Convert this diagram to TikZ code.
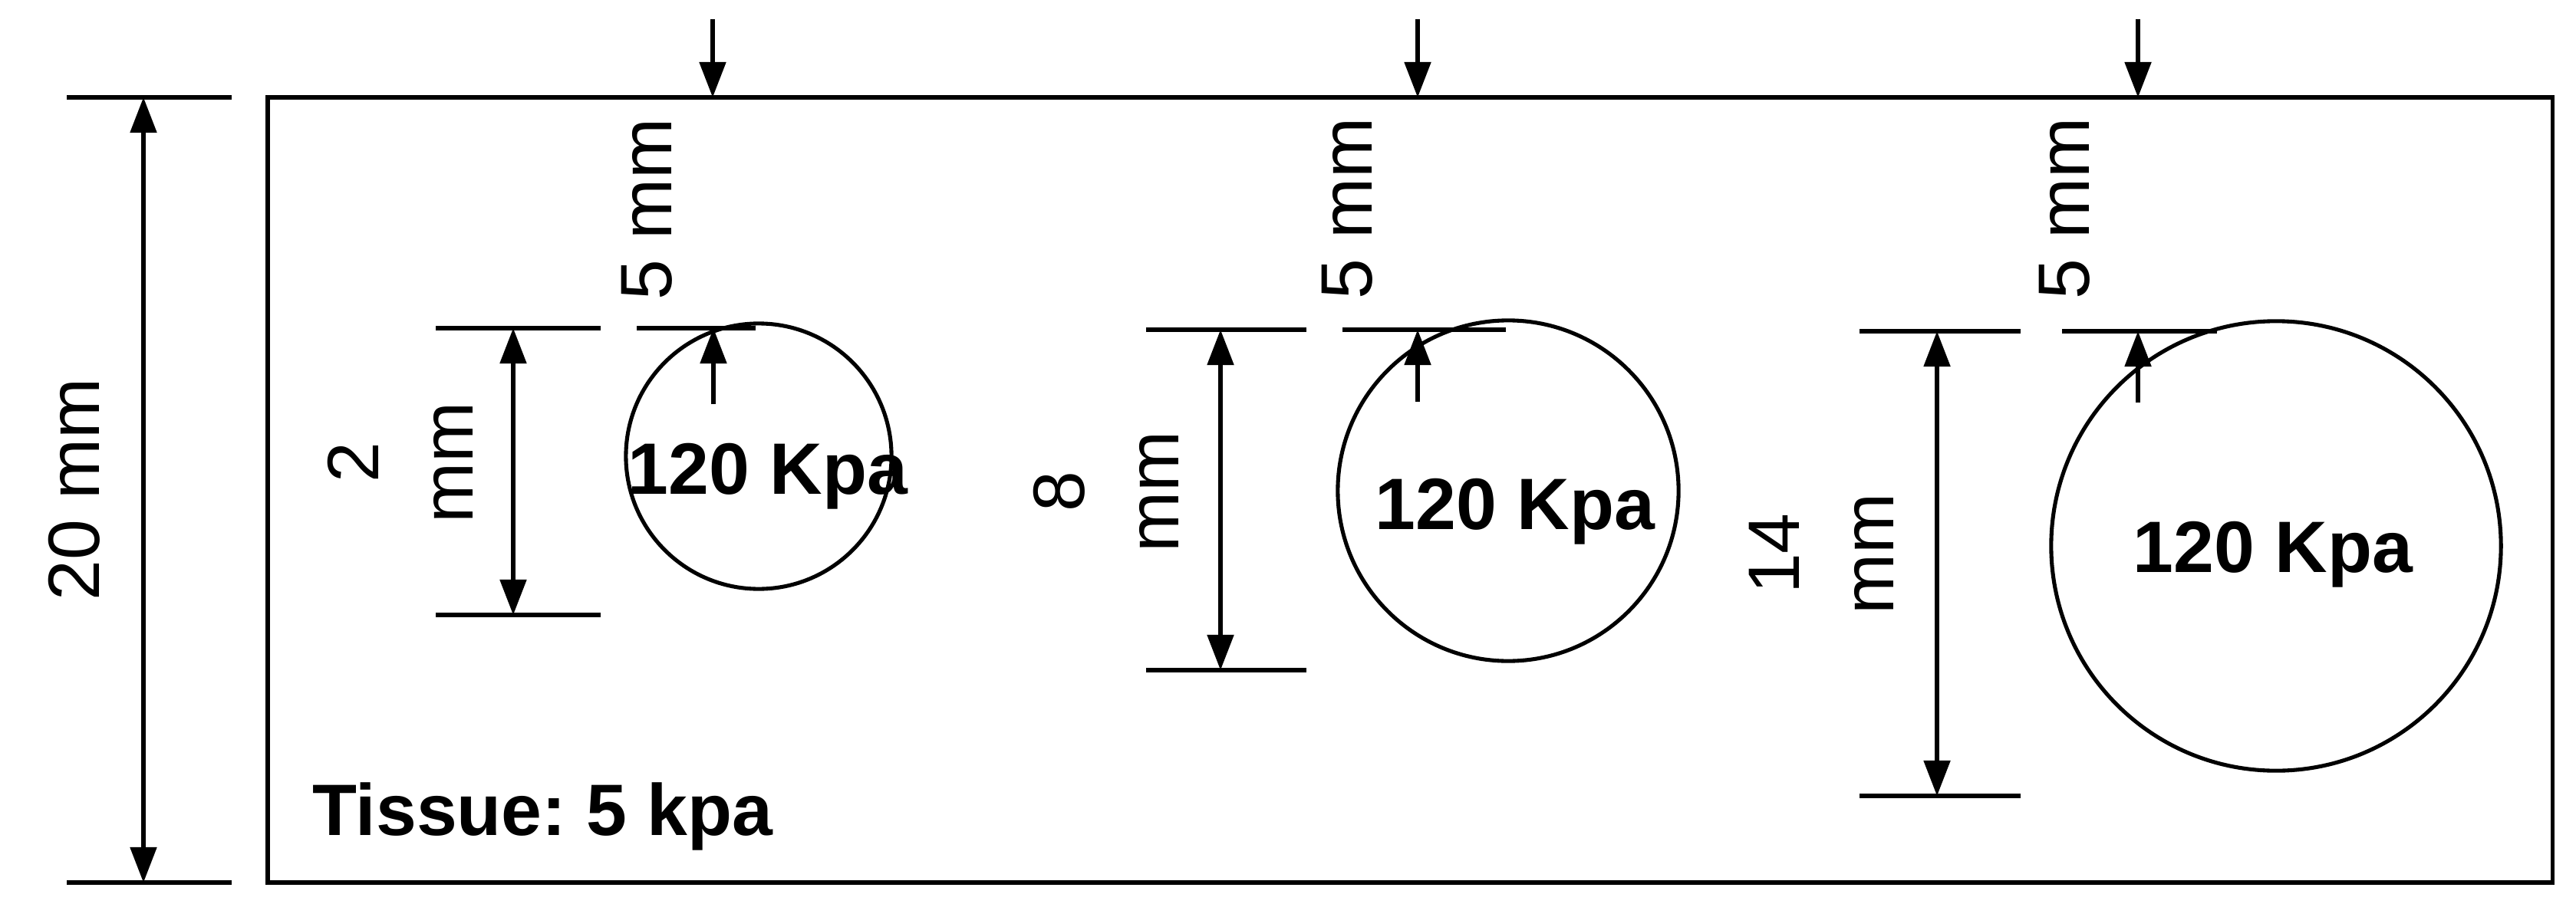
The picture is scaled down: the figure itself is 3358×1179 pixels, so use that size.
\documentclass[tikz,border=0pt]{standalone}
\usepackage{fontspec}
\setmainfont{Liberation Sans}
\usetikzlibrary{arrows.meta}
\frenchspacing

\begin{document}
\begin{tikzpicture}[x=0.01cm, y=-0.01cm, line width=1.45pt, >={Triangle[length=4.6mm, width=3.4mm]}, label text/.style={font=\fontsize{27}{35}\selectfont, inner sep=0pt, align=center}, value text/.style={font=\fontsize{27}{35}\selectfont\bfseries, inner sep=0pt}]

  \useasboundingbox (0,0) rectangle (3358,1179);

  % Define tissue block
  \coordinate (boxNW) at (349,127);
  \coordinate (boxSE) at (3327,1151);
  \draw (boxNW) rectangle (boxSE);
  \node[value text, anchor=base west] (tissue) at (405,1089) {Tissue: 5 kpa};

  % Overall height
  \coordinate (hTL) at (87,127);   \coordinate (hTR) at (302,127);
  \coordinate (hBL) at (87,1151);  \coordinate (hBR) at (302,1151);
  \coordinate (hT) at (187,127);   \coordinate (hB) at (187,1151);
  \draw (hTL) -- (hTR);
  \draw (hBL) -- (hBR);
  \draw[<->] (hT) -- (hB);
  \node[label text, rotate=90] (height) at (97,638) {20 mm};

  % Define inclusions
  \coordinate (inc1) at (989,595);
  \coordinate (inc2) at (1966,640);
  \coordinate (inc3) at (2967,712);
  \draw (inc1) circle[radius=1.73cm];
  \draw (inc2) circle[radius=2.22cm];
  \draw (inc3) circle[radius=2.93cm];
  \node[value text, anchor=base] (val1) at (1001,644) {120 Kpa};
  \node[value text, anchor=base] (val2) at (1975,690) {120 Kpa};
  \node[value text, anchor=base] (val3) at (2963,746) {120 Kpa};

  % Loads on top surface
  \coordinate (p1) at (929,25);   \coordinate (q1) at (929,127);
  \coordinate (p2) at (1848,25);  \coordinate (q2) at (1848,127);
  \coordinate (p3) at (2787,25);  \coordinate (q3) at (2787,127);
  \draw[->] (p1) -- (q1);
  \draw[->] (p2) -- (q2);
  \draw[->] (p3) -- (q3);

  % Depth 5 mm
  \coordinate (d1a) at (830,428);   \coordinate (d1b) at (985,428);
  \coordinate (d2a) at (1750,430);  \coordinate (d2b) at (1963,430);
  \coordinate (d3a) at (2688,432);  \coordinate (d3b) at (2890,432);
  \draw (d1a) -- (d1b);
  \draw (d2a) -- (d2b);
  \draw (d3a) -- (d3b);
  \coordinate (u1) at (930,527);   \coordinate (v1) at (930,428);
  \coordinate (u2) at (1848,524);  \coordinate (v2) at (1848,430);
  \coordinate (u3) at (2787,525);  \coordinate (v3) at (2787,432);
  \draw[->] (u1) -- (v1);
  \draw[->] (u2) -- (v2);
  \draw[->] (u3) -- (v3);
  \node[label text, rotate=90] (depth1) at (843,273) {5 mm};
  \node[label text, rotate=90] (depth2) at (1756,272) {5 mm};
  \node[label text, rotate=90] (depth3) at (2691,272) {5 mm};

  % Inclusion sizes
  \coordinate (s1TL) at (568,428);   \coordinate (s1TR) at (783,428);
  \coordinate (s1BL) at (568,802);   \coordinate (s1BR) at (783,802);
  \coordinate (s1T) at (669,428);    \coordinate (s1B) at (669,802);
  \draw (s1TL) -- (s1TR);
  \draw (s1BL) -- (s1BR);
  \draw[<->] (s1T) -- (s1B);
  \node[label text, rotate=90] (size1) at (522,603) {2\\mm};

  \coordinate (s2TL) at (1494,430);  \coordinate (s2TR) at (1703,430);
  \coordinate (s2BL) at (1494,874);  \coordinate (s2BR) at (1703,874);
  \coordinate (s2T) at (1591,430);   \coordinate (s2B) at (1591,874);
  \draw (s2TL) -- (s2TR);
  \draw (s2BL) -- (s2BR);
  \draw[<->] (s2T) -- (s2B);
  \node[label text, rotate=90] (size2) at (1442,641) {8\\mm};

  \coordinate (s3TL) at (2424,432);  \coordinate (s3TR) at (2634,432);
  \coordinate (s3BL) at (2424,1038); \coordinate (s3BR) at (2634,1038);
  \coordinate (s3T) at (2525,432);   \coordinate (s3B) at (2525,1038);
  \draw (s3TL) -- (s3TR);
  \draw (s3BL) -- (s3BR);
  \draw[<->] (s3T) -- (s3B);
  \node[label text, rotate=90] (size3) at (2374,722) {14\\mm};
\end{tikzpicture}
\end{document}
